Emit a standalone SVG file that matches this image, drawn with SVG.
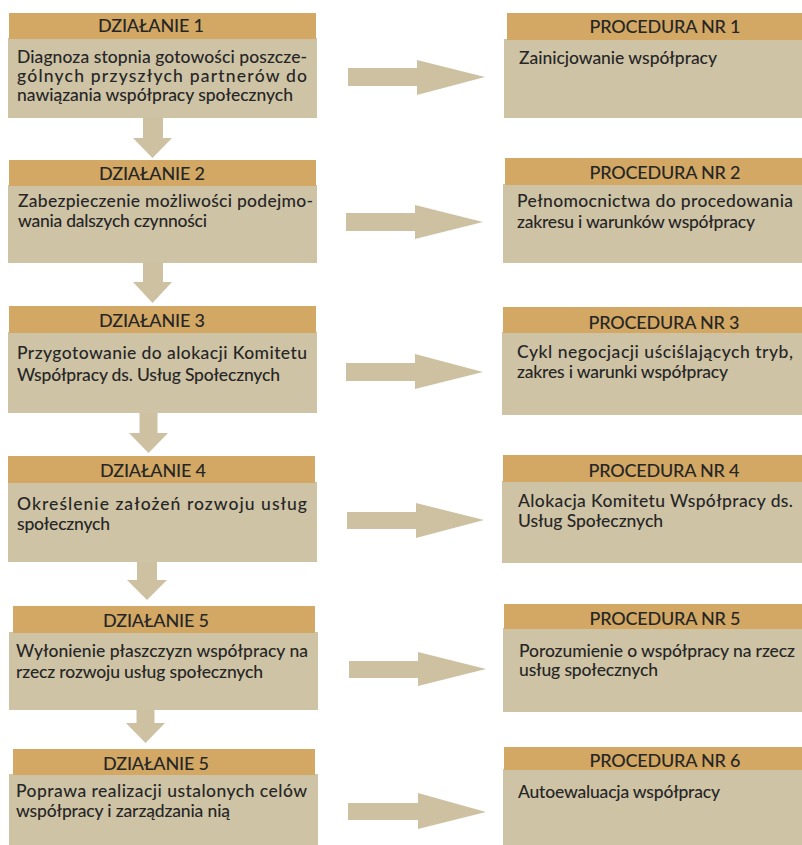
<svg xmlns="http://www.w3.org/2000/svg" width="802" height="845" viewBox="0 0 802 845">
  <style>
    .hd { fill: #D2A864; }
    .bd { fill: #CEC3A5; }
    .ar { fill: #CDC1A1; }
    .ht { font-family: Lato, "Noto Sans", "Liberation Sans", sans-serif; font-size: 18px; font-weight: 500; fill: #262626; text-anchor: middle; }
    .tx { font-family: Lato, "Noto Sans", "Liberation Sans", sans-serif; font-size: 17.5px; font-weight: 500; fill: #262626; }
  </style>
  <rect width="802" height="845" fill="#FFFFFF"/>

  <!-- left column: actions -->
  <g id="dzialanie-1">
    <rect class="bd" x="8" y="38" width="309" height="80"/>
    <rect class="hd" x="9" y="13" width="307" height="26"/>
    <text class="ht" x="151" y="32" textLength="106" lengthAdjust="spacing">DZIAŁANIE 1</text>
    <text class="tx" x="17" y="63" textLength="290" lengthAdjust="spacing">Diagnoza stopnia gotowości poszcze-</text>
    <text class="tx" x="17" y="82" textLength="290" lengthAdjust="spacing">gólnych przyszłych partnerów do</text>
    <text class="tx" x="17" y="101" textLength="276" lengthAdjust="spacing">nawiązania współpracy społecznych</text>
  </g>
  <g id="dzialanie-2">
    <rect class="bd" x="8" y="185" width="309" height="78"/>
    <rect class="hd" x="9" y="160" width="307" height="26"/>
    <text class="ht" x="152" y="180" textLength="106" lengthAdjust="spacing">DZIAŁANIE 2</text>
    <text class="tx" x="18" y="207" textLength="295" lengthAdjust="spacing">Zabezpieczenie możliwości podejmo-</text>
    <text class="tx" x="18" y="227" textLength="189" lengthAdjust="spacing">wania dalszych czynności</text>
  </g>
  <g id="dzialanie-3">
    <rect class="bd" x="8" y="332" width="309" height="81"/>
    <rect class="hd" x="9" y="306" width="307" height="27"/>
    <text class="ht" x="152" y="327" textLength="106" lengthAdjust="spacing">DZIAŁANIE 3</text>
    <text class="tx" x="17" y="359" textLength="290" lengthAdjust="spacing">Przygotowanie do alokacji Komitetu</text>
    <text class="tx" x="17" y="381" textLength="263" lengthAdjust="spacing">Współpracy ds. Usług Społecznych</text>
  </g>
  <g id="dzialanie-4">
    <rect class="bd" x="8" y="482" width="309" height="80"/>
    <rect class="hd" x="8" y="456" width="307" height="27"/>
    <text class="ht" x="153" y="477" textLength="106" lengthAdjust="spacing">DZIAŁANIE 4</text>
    <text class="tx" x="17" y="510" textLength="290" lengthAdjust="spacing">Określenie założeń rozwoju usług</text>
    <text class="tx" x="17" y="530" textLength="93" lengthAdjust="spacing">społecznych</text>
  </g>
  <g id="dzialanie-5a">
    <rect class="bd" x="9" y="632" width="309" height="78"/>
    <rect class="hd" x="13" y="606" width="302" height="27"/>
    <text class="ht" x="156" y="627" textLength="106" lengthAdjust="spacing">DZIAŁANIE 5</text>
    <text class="tx" x="16" y="657" textLength="292" lengthAdjust="spacing">Wyłonienie płaszczyzn współpracy na</text>
    <text class="tx" x="16" y="678" textLength="247" lengthAdjust="spacing">rzecz rozwoju usług społecznych</text>
  </g>
  <g id="dzialanie-5b">
    <rect class="bd" x="9" y="774" width="309" height="71"/>
    <rect class="hd" x="13" y="749" width="302" height="26"/>
    <text class="ht" x="156" y="770" textLength="106" lengthAdjust="spacing">DZIAŁANIE 5</text>
    <text class="tx" x="16" y="797" textLength="291" lengthAdjust="spacing">Poprawa realizacji ustalonych celów</text>
    <text class="tx" x="16" y="817" textLength="214" lengthAdjust="spacing">współpracy i zarządzania nią</text>
  </g>

  <!-- right column: procedures -->
  <g id="procedura-1">
    <rect class="bd" x="504" y="39" width="298" height="79"/>
    <rect class="hd" x="507" y="13" width="295" height="27"/>
    <text class="ht" x="665" y="33" textLength="151" lengthAdjust="spacing">PROCEDURA NR 1</text>
    <text class="tx" x="519" y="64" textLength="198" lengthAdjust="spacing">Zainicjowanie współpracy</text>
  </g>
  <g id="procedura-2">
    <rect class="bd" x="503" y="184" width="299" height="79"/>
    <rect class="hd" x="505" y="158" width="297" height="27"/>
    <text class="ht" x="665" y="179" textLength="151" lengthAdjust="spacing">PROCEDURA NR 2</text>
    <text class="tx" x="517" y="207" textLength="276" lengthAdjust="spacing">Pełnomocnictwa do procedowania</text>
    <text class="tx" x="517" y="228" textLength="238" lengthAdjust="spacing">zakresu i warunków współpracy</text>
  </g>
  <g id="procedura-3">
    <rect class="bd" x="502" y="332" width="300" height="83"/>
    <rect class="hd" x="503" y="307" width="299" height="26"/>
    <text class="ht" x="664" y="329" textLength="151" lengthAdjust="spacing">PROCEDURA NR 3</text>
    <text class="tx" x="517" y="358" textLength="276" lengthAdjust="spacing">Cykl negocjacji uściślających tryb,</text>
    <text class="tx" x="517" y="378" textLength="211" lengthAdjust="spacing">zakres i warunki współpracy</text>
  </g>
  <g id="procedura-4">
    <rect class="bd" x="502" y="481" width="300" height="82"/>
    <rect class="hd" x="503" y="455" width="299" height="27"/>
    <text class="ht" x="664" y="477" textLength="151" lengthAdjust="spacing">PROCEDURA NR 4</text>
    <text class="tx" x="518" y="507" textLength="275" lengthAdjust="spacing">Alokacja Komitetu Współpracy ds.</text>
    <text class="tx" x="518" y="527" textLength="145" lengthAdjust="spacing">Usług Społecznych</text>
  </g>
  <g id="procedura-5">
    <rect class="bd" x="503" y="628" width="299" height="84"/>
    <rect class="hd" x="504" y="604" width="298" height="25"/>
    <text class="ht" x="665" y="625" textLength="151" lengthAdjust="spacing">PROCEDURA NR 5</text>
    <text class="tx" x="519" y="657" textLength="276" lengthAdjust="spacing">Porozumienie o współpracy na rzecz</text>
    <text class="tx" x="519" y="676" textLength="139" lengthAdjust="spacing">usług społecznych</text>
  </g>
  <g id="procedura-6">
    <rect class="bd" x="503" y="769" width="299" height="76"/>
    <rect class="hd" x="504" y="747" width="298" height="23"/>
    <text class="ht" x="665" y="767" textLength="151" lengthAdjust="spacing">PROCEDURA NR 6</text>
    <text class="tx" x="518" y="798" textLength="202" lengthAdjust="spacing">Autoewaluacja współpracy</text>
  </g>

  <!-- block arrows: down between actions, right from action to procedure -->
  <g id="connectors" class="ar">
    <polygon points="143,118 163,118 163,138 172,138 152.5,158 133,138 143,138"/>
    <polygon points="143,263 163,263 163,282 172,282 152.5,303 133,282 143,282"/>
    <polygon points="139.5,413 157.5,413 157.5,433 168,433 148.5,453 129,433 139.5,433"/>
    <polygon points="137,562 157,562 157,580 167,580 147,600 127,580 137,580"/>
    <polygon points="136.5,710 154.5,710 154.5,723 165,723 145.5,743 126,723 136.5,723"/>

    <polygon points="348,68 417,68 417,60 485,77 417,95 417,86 348,86"/>
    <polygon points="346,213 415,213 415,205 483,222 415,239 415,231 346,231"/>
    <polygon points="346,363 415,363 415,354 483,372 415,389 415,381 346,381"/>
    <polygon points="347,512 416,512 416,503 484,520 416,538 416,529 347,529"/>
    <polygon points="349,661 418,661 418,652 486,669 418,686 418,678 349,678"/>
    <polygon points="348,803 418,803 418,793 486,812 418,829 418,820 348,820"/>
  </g>
</svg>
